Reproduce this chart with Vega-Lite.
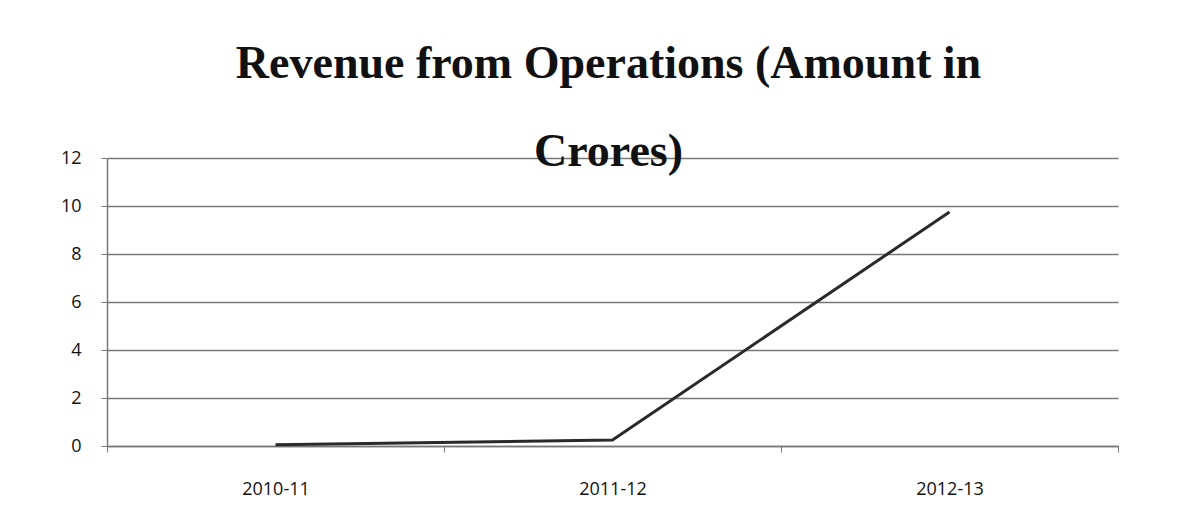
{
  "$schema": "https://vega.github.io/schema/vega-lite/v6.json",
  "autosize": "none",
  "width": 1011,
  "height": 288,
  "padding": {"left": 107, "top": 158, "right": 67, "bottom": 80},
  "background": "white",
  "title": {
    "text": ["Revenue from Operations (Amount in", "Crores)"],
    "font": "Liberation Serif",
    "fontSize": 46,
    "fontWeight": "bold",
    "color": "#111",
    "lineHeight": 88,
    "anchor": "middle",
    "dx": -4,
    "offset": -27
  },
  "data": {
    "values": [
      {"year": "2010-11", "revenue": 0.05},
      {"year": "2011-12", "revenue": 0.25},
      {"year": "2012-13", "revenue": 9.75}
    ]
  },
  "mark": {"type": "line", "color": "#2a2a2a", "strokeWidth": 3},
  "encoding": {
    "x": {
      "field": "year",
      "type": "nominal",
      "bandPosition": 0.5,
      "scale": {"type": "band", "paddingInner": 0, "paddingOuter": 0},
      "axis": {
        "title": null,
        "labelAngle": 0,
        "labelFont": "Open Sans",
        "labelFontSize": 18,
        "labelColor": "#111",
        "labelPadding": 28,
        "tickBand": "extent",
        "tickSize": 6,
        "tickColor": "#777",
        "domainColor": "#777",
        "domainWidth": 1.5,
        "grid": false
      }
    },
    "y": {
      "field": "revenue",
      "type": "quantitative",
      "scale": {"domain": [0, 12]},
      "axis": {
        "title": null,
        "values": [0, 2, 4, 6, 8, 10, 12],
        "labelFont": "Open Sans",
        "labelFontSize": 18,
        "labelColor": "#111",
        "labelPadding": 20,
        "tickSize": 6,
        "tickColor": "#777",
        "domainColor": "#777",
        "domainWidth": 1.5,
        "gridColor": "#777",
        "gridWidth": 1.5,
        "gridOpacity": 1
      }
    }
  },
  "config": {"view": {"stroke": null}}
}
